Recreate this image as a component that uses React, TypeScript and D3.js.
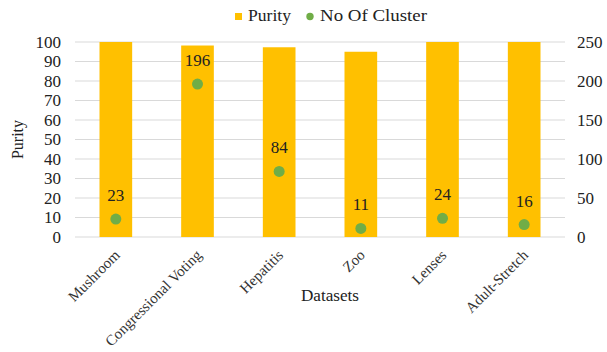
import React from "react";
import * as d3 from "d3";

// Datasets and their scores
const datasets = ["Mushroom", "Congressional Voting", "Hepatitis", "Zoo", "Lenses", "Adult-Stretch"];
const purity = [100, 98.2, 97.3, 95, 100, 100];
const clusters = [23, 196, 84, 11, 24, 16];
const leftTicks = [0, 10, 20, 30, 40, 50, 60, 70, 80, 90, 100];
const rightTicks = [0, 50, 100, 150, 200, 250];

const W = 607;
const H = 352;
const M = { left: 75, right: 42, top: 42, bottom: 115 };
const FONT = '"Liberation Serif"';
const BAR = "#FFC000";
const DOT = "#70AD47";
const GRID = "#D9D9D9";
const TXT = "#222";

export default function App() {
  const x = d3
    .scaleBand<string>()
    .domain(datasets)
    .range([M.left, W - M.right])
    .paddingInner(0.6)
    .paddingOuter(0.3);
  const yL = d3.scaleLinear().domain([0, 100]).range([H - M.bottom, M.top]);
  const yR = d3.scaleLinear().domain([0, 250]).range([H - M.bottom, M.top]);
  const cx = (d: string) => (x(d) ?? 0) + x.bandwidth() / 2;
  const plotCx = (M.left + W - M.right) / 2;
  const ts = { fontFamily: FONT };

  return (
    <svg
      width={W}
      height={H}
      style={{ position: "absolute", left: 0, top: 0, background: "#fff", fontFamily: FONT }}
    >
      {/* gridlines */}
      {leftTicks.map((t) => (
        <line
          key={"g" + t}
          x1={M.left}
          x2={W - M.right}
          y1={yL(t)}
          y2={yL(t)}
          stroke={GRID}
          strokeWidth={1}
        />
      ))}

      {/* bars */}
      {datasets.map((d, i) => (
        <rect
          key={"b" + d}
          x={x(d)}
          y={yL(purity[i])}
          width={x.bandwidth()}
          height={yL(0) - yL(purity[i])}
          fill={BAR}
        />
      ))}

      {/* cluster counts */}
      {datasets.map((d, i) => (
        <g key={"p" + d}>
          <circle cx={cx(d)} cy={yR(clusters[i])} r={5.5} fill={DOT} />
          <text
            x={cx(d)}
            y={yR(clusters[i]) - 18}
            textAnchor="middle"
            fontSize={17}
            fill={TXT}
            style={ts}
          >
            {clusters[i]}
          </text>
        </g>
      ))}

      {/* left axis */}
      {leftTicks.map((t) => (
        <text
          key={"l" + t}
          x={61}
          y={yL(t)}
          dy="0.34em"
          textAnchor="end"
          fontSize={17}
          fill={TXT}
          style={ts}
        >
          {t}
        </text>
      ))}

      {/* right axis */}
      {rightTicks.map((t) => (
        <text
          key={"r" + t}
          x={577}
          y={yR(t)}
          dy="0.34em"
          textAnchor="start"
          fontSize={17}
          fill={TXT}
          style={ts}
        >
          {t}
        </text>
      ))}

      {/* category labels */}
      {datasets.map((d) => (
        <text
          key={"x" + d}
          transform={`translate(${cx(d) + 5},${H - M.bottom + 19}) rotate(-45)`}
          textAnchor="end"
          fontSize={15}
          fill="#333"
          style={ts}
        >
          {d}
        </text>
      ))}

      {/* axis titles */}
      <text
        x={plotCx + 10}
        y={301}
        textAnchor="middle"
        fontSize={16}
        fill={TXT}
        textLength={58}
        lengthAdjust="spacingAndGlyphs"
        style={ts}
      >
        Datasets
      </text>
      <text
        transform={`translate(23,${(yL(0) + yL(100)) / 2}) rotate(-90)`}
        textAnchor="middle"
        fontSize={16}
        fill={TXT}
        style={ts}
      >
        Purity
      </text>

      {/* legend */}
      <rect x={235} y={13} width={7} height={7} fill={BAR} />
      <text x={248} y={20.5} fontSize={16} fill={TXT} textLength={43} lengthAdjust="spacingAndGlyphs" style={ts}>
        Purity
      </text>
      <circle cx={310} cy={16.5} r={3.7} fill={DOT} />
      <text x={320} y={20.5} fontSize={16} fill={TXT} textLength={107} lengthAdjust="spacingAndGlyphs" style={ts}>
        No Of Cluster
      </text>
    </svg>
  );
}
